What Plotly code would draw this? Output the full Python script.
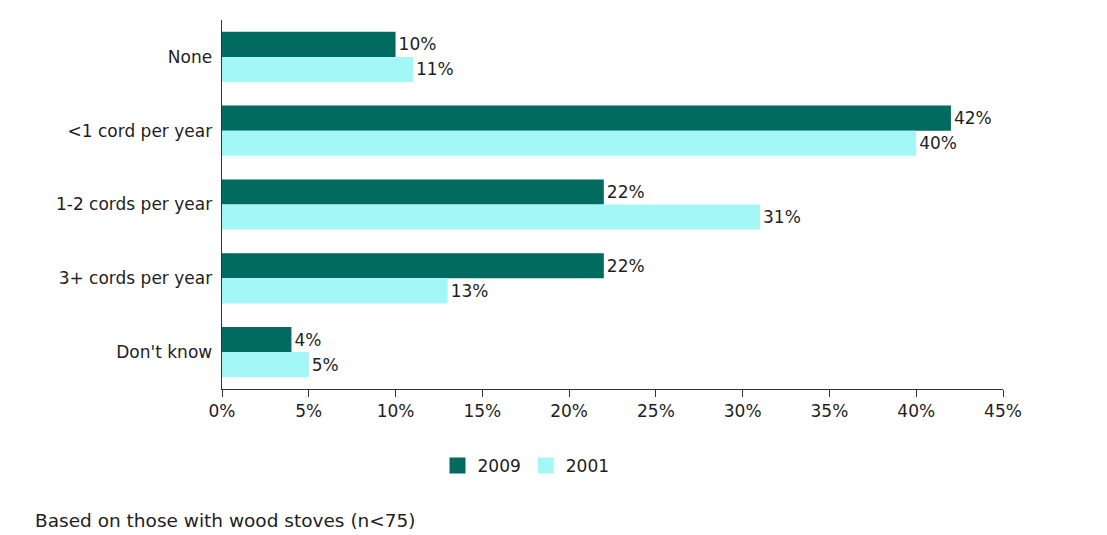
import plotly.graph_objects as go

categories = ["None", "<1 cord per year", "1-2 cords per year", "3+ cords per year", "Don't know"]
values_2009 = [10, 42, 22, 22, 4]
values_2001 = [11, 40, 31, 13, 5]
x_ticks = [0, 5, 10, 15, 20, 25, 30, 35, 40, 45]
x_tick_labels = [f"{v}%" for v in x_ticks]
series_names = ["2009", "2001"]

FONT = "DejaVu Sans, Verdana, sans-serif"
DARK = "#006B5E"
LIGHT = "#A3F7F7"
TXT = "#1e1e1e"

fig = go.Figure()
for name, vals, col in [(series_names[0], values_2009, DARK), (series_names[1], values_2001, LIGHT)]:
    fig.add_trace(go.Bar(
        name=name, y=categories, x=vals, orientation="h",
        marker=dict(color=col, line=dict(width=0)),
        text=[f"{v}%" for v in vals], textposition="outside",
        textfont=dict(size=17, color=TXT, family=FONT), cliponaxis=False,
        showlegend=False,
    ))
# legend entries with larger square swatches
for name, col in [(series_names[0], DARK), (series_names[1], LIGHT)]:
    fig.add_trace(go.Scatter(
        name=name, x=[None], y=[None], mode="markers",
        marker=dict(symbol="square", size=16, color=col, line=dict(width=0)),
        showlegend=True,
    ))

fig.update_layout(
    width=1107, height=535,
    margin=dict(l=222, r=104, t=20, b=146),
    paper_bgcolor="white", plot_bgcolor="white",
    barmode="group", bargap=0.32, bargroupgap=0,
    font=dict(family=FONT, size=17, color=TXT),
    showlegend=True,
    legend=dict(orientation="h", x=(526 - 222) / 781, xanchor="center",
                y=-(466 - 389) / 369, yanchor="middle", itemsizing="trace",
                font=dict(size=17, family=FONT, color=TXT), traceorder="normal"),
    xaxis=dict(range=[0, 45], tickvals=x_ticks, ticktext=x_tick_labels,
               showgrid=False, zeroline=False, showline=True, linecolor="#333", linewidth=1,
               ticks="outside", ticklen=7, tickcolor="#333",
               tickfont=dict(size=17, family=FONT, color=TXT)),
    yaxis=dict(autorange="reversed", showgrid=False, zeroline=False,
               showline=True, linecolor="#333", linewidth=1, ticks="",
               ticksuffix=" ",
               tickfont=dict(size=17, family=FONT, color=TXT)),
    annotations=[dict(text="Based on those with wood stoves (n<75)", xref="paper", yref="paper",
                      x=-(222 - 33) / 781, xanchor="left", y=-(520 - 389) / 369, yanchor="middle",
                      showarrow=False, font=dict(size=18.5, family=FONT, color=TXT))],
)

fig.write_html("out.html")
